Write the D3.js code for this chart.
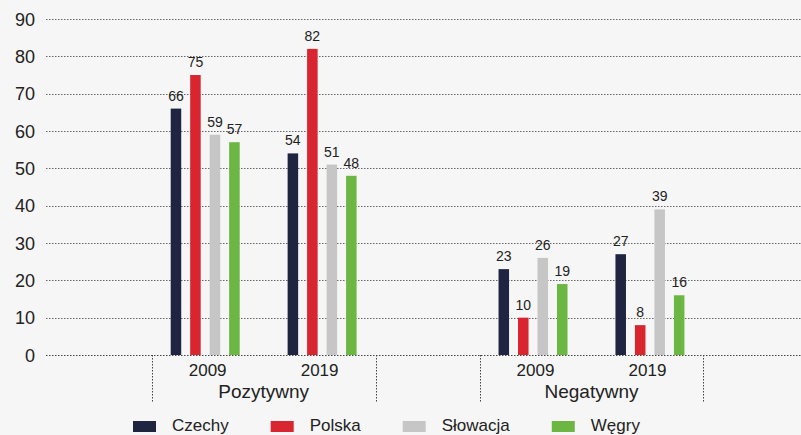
<!DOCTYPE html>
<html>
<head>
<meta charset="utf-8">
<script src="https://cdn.jsdelivr.net/npm/d3@7"></script>
<style>
  html, body { margin: 0; padding: 0; background: #f6f6f6; }
  svg { display: block; }
  text { font-family: "Liberation Sans", Arial, sans-serif; fill: #222; }
</style>
</head>
<body>
<svg id="chart" width="801" height="435"></svg>
<script>
// Attitudes by country, two survey years, positive vs negative
const categories = ["Pozytywny", "Negatywny"];
const years = ["2009", "2019"];
const seriesNames = ["Czechy", "Polska", "Słowacja", "Węgry"];
const seriesColors = ["#1f2540", "#d9252f", "#c6c6c6", "#6cb643"];
// values[series][category][year]
const czechy   = [[66, 54], [23, 27]];
const polska   = [[75, 82], [10, 8]];
const slowacja = [[59, 51], [26, 39]];
const wegry    = [[57, 48], [19, 16]];
const seriesValues = [czechy, polska, slowacja, wegry];
const yTicks = [0, 10, 20, 30, 40, 50, 60, 70, 80, 90];

const svg = d3.select("#chart");
const plotLeft = 46, plotRight = 801;

const y = d3.scaleLinear().domain([0, 90]).range([355, 19]);

const x0 = d3.scaleBand().domain(categories)
  .range([plotLeft, plotRight]).paddingInner(0.317).paddingOuter(0.31).align(0.52);
// bar groups within a category
const x1 = d3.scaleBand().domain(years)
  .range([0, x0.bandwidth()]).paddingInner(0.41).paddingOuter(0.1625);
// year label slots within a category
const xl = d3.scaleBand().domain(years).range([0, x0.bandwidth()]);
const x2 = d3.scaleBand().domain(seriesNames)
  .range([0, x1.bandwidth()]).paddingInner(0.46);

// gridlines
const grid = svg.append("g");
yTicks.forEach(t => {
  grid.append("line")
    .attr("x1", plotLeft).attr("x2", plotRight)
    .attr("y1", Math.round(y(t)) + 0.5).attr("y2", Math.round(y(t)) + 0.5)
    .attr("stroke", t === 0 ? "#444" : "#666")
    .attr("stroke-width", 1)
    .attr("stroke-dasharray", "1.5,1.5");
});

// y axis labels
const yAxis = d3.axisLeft(y).tickValues(yTicks).tickSize(0).tickPadding(0);
const ya = svg.append("g").attr("transform", "translate(35,0)").call(yAxis);
ya.select(".domain").remove();
ya.selectAll("text")
  .attr("font-family", "DejaVu Sans, sans-serif")
  .attr("font-size", 18).attr("fill", "#333").attr("dy", "0.35em");

// bars and value labels
const barsG = svg.append("g");
categories.forEach((cat, ci) => {
  years.forEach((yr, yi) => {
    seriesNames.forEach((s, si) => {
      const v = seriesValues[si][ci][yi];
      const bx = x0(cat) + x1(yr) + x2(s);
      barsG.append("rect")
        .attr("x", bx).attr("width", x2.bandwidth())
        .attr("y", y(v)).attr("height", y(0) - y(v))
        .attr("fill", seriesColors[si]);
      barsG.append("text")
        .attr("x", bx + x2.bandwidth() / 2)
        .attr("y", y(v) - 8)
        .attr("text-anchor", "middle")
        .attr("font-size", 14)
        .text(v);
    });
  });
});

// category dividers and labels
const axG = svg.append("g");
categories.forEach(cat => {
  const a = x0(cat), b = x0(cat) + x0.bandwidth();
  [a, b].forEach(xx => {
    axG.append("line")
      .attr("x1", Math.round(xx) + 0.5).attr("x2", Math.round(xx) + 0.5)
      .attr("y1", 355).attr("y2", 403)
      .attr("stroke", "#444").attr("stroke-dasharray", "1.5,1.5");
  });
  years.forEach(yr => {
    axG.append("text")
      .attr("x", a + xl(yr) + xl.bandwidth() / 2)
      .attr("y", 376)
      .attr("text-anchor", "middle")
      .attr("font-size", 17)
      .text(yr);
  });
  axG.append("text")
    .attr("x", (a + b) / 2)
    .attr("y", 398)
    .attr("text-anchor", "middle")
    .attr("font-size", 19)
    .text(cat);
});

// legend along the bottom edge
const leg = svg.append("g");
let lx = 133;
seriesNames.forEach((s, si) => {
  leg.append("rect").attr("x", lx).attr("y", 421).attr("width", 23).attr("height", 11)
    .attr("fill", seriesColors[si]);
  const t = leg.append("text").attr("x", lx + 39).attr("y", 431)
    .attr("font-size", 17).text(s);
  lx += 39 + t.node().getComputedTextLength() + 42;
});
</script>
</body>
</html>
